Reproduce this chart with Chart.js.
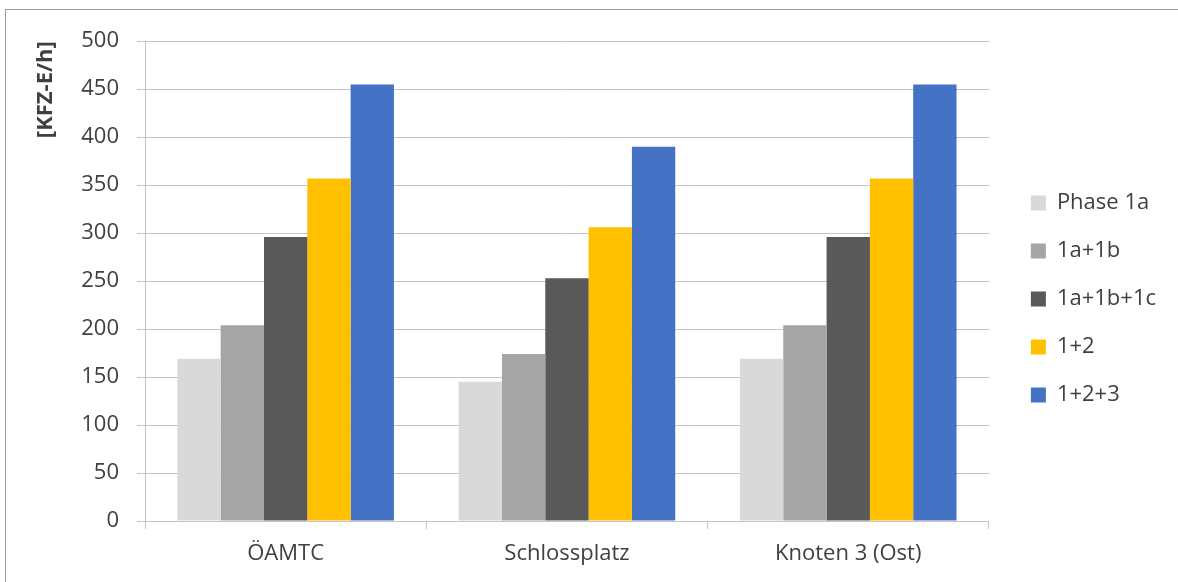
<!DOCTYPE html>
<html>
<head>
<meta charset="utf-8">
<script src="https://cdn.jsdelivr.net/npm/chart.js@4"></script>
<style>
    body { margin: 0; background: #fff; }
    #wrap {
        position: absolute;
        left: 5px;
        top: 9px;
        width: 1172px;
        height: 572px;
        border-left: 1px solid #9a9a9a;
        border-top: 1px solid #9a9a9a;
    }
</style>
</head>
<body>
<div id="wrap"><canvas id="phaseChart"></canvas></div>
<script>
// Chart data
const CATEGORIES = ['ÖAMTC', 'Schlossplatz', 'Knoten 3 (Ost)'];
const SERIES_NAMES = ['Phase 1a', '1a+1b', '1a+1b+1c', '1+2', '1+2+3'];
const PHASE_1A = [169, 145, 169];
const PHASE_1A_1B = [204, 174, 204];
const PHASE_1A_1B_1C = [296, 253, 296];
const PHASE_1_2 = [357, 306, 357];
const PHASE_1_2_3 = [455, 390, 455];
const Y_TICKS = [0, 50, 100, 150, 200, 250, 300, 350, 400, 450, 500];

const COLORS = ['#d9d9d9', '#a5a5a5', '#595959', '#ffc000', '#4472c4'];
const VALUES = [PHASE_1A, PHASE_1A_1B, PHASE_1A_1B_1C, PHASE_1_2, PHASE_1_2_3];

const FONT = "'Open Sans', 'DejaVu Sans', sans-serif";
const TEXT_COLOR = '#404040';
const GRID_COLOR = '#c4c4c4';

// move the legend a bit away from the plot area (and up a little)
const legendShift = {
    id: 'legendShift',
    afterLayout(chart) {
        const lg = chart.legend;
        lg.left += 16;
        lg.right += 16;
        lg.top -= 12;
        lg.bottom -= 12;
    }
};

const ctx = document.getElementById('phaseChart').getContext('2d');
const chart = new Chart(ctx, {
    type: 'bar',
    data: {
        labels: CATEGORIES,
        datasets: SERIES_NAMES.map((name, i) => ({
            label: name,
            data: VALUES[i],
            backgroundColor: COLORS[i],
            borderWidth: 0
        }))
    },
    options: {
        responsive: true,
        maintainAspectRatio: false,
        animation: false,
        categoryPercentage: 0.77,
        barPercentage: 1.0,
        layout: {
            padding: { top: 30, bottom: 0, right: 28, left: 0 }
        },
        plugins: {
            tooltip: { enabled: false },
            legend: {
                position: 'right',
                labels: {
                    boxWidth: 15,
                    boxHeight: 15,
                    padding: 26,
                    color: TEXT_COLOR,
                    font: { family: FONT, size: 22 }
                }
            }
        },
        scales: {
            x: {
                afterFit: (scale) => { scale.height = 61; },
                grid: {
                    display: true,
                    offset: true,
                    drawOnChartArea: false,
                    tickLength: 8,
                    color: GRID_COLOR
                },
                border: { display: true, color: GRID_COLOR },
                ticks: {
                    padding: 12,
                    color: TEXT_COLOR,
                    font: { family: FONT, size: 22 }
                }
            },
            y: {
                min: 0,
                max: 500,
                afterFit: (scale) => { scale.width = 139; },
                afterBuildTicks: (scale) => {
                    scale.ticks = Y_TICKS.map(v => ({ value: v }));
                },
                grid: {
                    color: GRID_COLOR,
                    tickLength: 8
                },
                border: { display: true, color: GRID_COLOR },
                ticks: {
                    padding: 18,
                    color: TEXT_COLOR,
                    font: { family: FONT, size: 22 }
                },
                title: {
                    display: true,
                    text: '[KFZ-E/h]',
                    align: 'end',
                    color: TEXT_COLOR,
                    padding: { top: 27, bottom: 0 },
                    font: { family: FONT, size: 22, weight: 'bold' }
                }
            }
        }
    },
    plugins: [legendShift]
});
</script>
</body>
</html>
